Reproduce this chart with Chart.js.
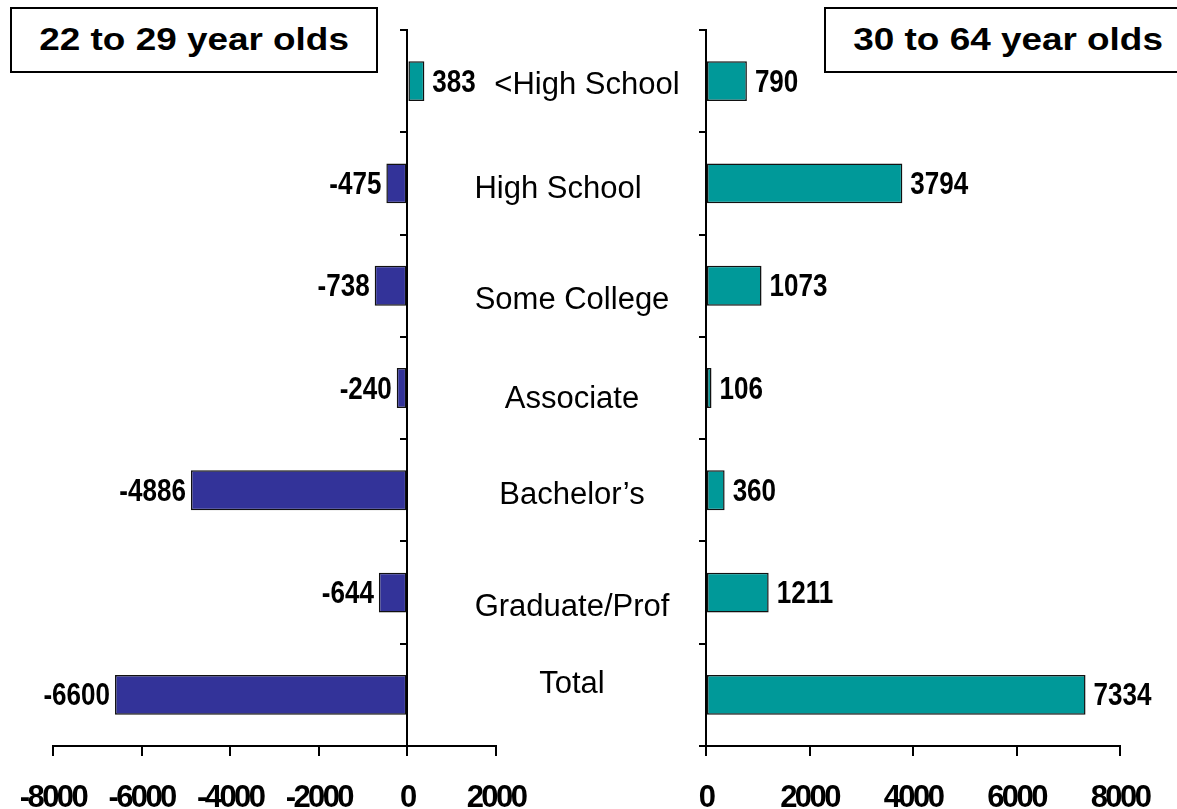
<!DOCTYPE html>
<html>
<head>
<meta charset="utf-8">
<script src="https://cdn.jsdelivr.net/npm/chart.js@4"></script>
<style>
  body { margin: 0; background: #fff; }
  #wrap { position: relative; width: 1177px; height: 809px; overflow: hidden; }
  canvas { position: absolute; left: 0; top: 0; }
  .tbox {
    position: absolute; top: 7px; width: 364px; height: 62px;
    border: 2px solid #000; background: #fff;
    font: bold 31px "Liberation Sans", Arial, sans-serif;
    line-height: 62px; text-align: center; color: #000;
  }
  .tbox span { display: inline-block; transform: scaleX(1.19); }
</style>
</head>
<body>
<div id="wrap">
  <canvas id="leftChart" width="1177" height="809"></canvas>
  <canvas id="rightChart" width="1177" height="809"></canvas>
  <div class="tbox" style="left:10px"><span>22 to 29 year olds</span></div>
  <div class="tbox" style="left:824px"><span>30 to 64 year olds</span></div>
</div>
<script>
// categorias e valores
const categorias = ['<High School', 'High School', 'Some College', 'Associate', "Bachelor\u2019s", 'Graduate/Prof', 'Total'];
const jovens = [383, -475, -738, -240, -4886, -644, -6600];   // 22 a 29 anos
const adultos = [790, 3794, 1073, 106, 360, 1211, 7334];      // 30 a 64 anos
const ticksEsquerda = [-8000, -6000, -4000, -2000, 0, 2000];
const ticksDireita = [0, 2000, 4000, 6000, 8000];

const azul = '#333399';
const verde = '#009999';
const fonteNumeros = 'bold 31px "Liberation Sans", Arial, sans-serif';

// ajuste fino dos rótulos das categorias (x, y)
const ajusteX = [15, -14, 0, 0, 0, 0, 0];
const ajusteY = [4, 6, 15, 11, 5, 15, -10];

// espaçamento apertado nos números dos eixos
const apertaTexto = {
    id: 'apertaTexto',
    beforeDraw(chart) {
        chart.ctx.letterSpacing = '-2.6px';
    }
};

// números ao lado das barras (letra estreita)
const rotulosValores = {
    id: 'rotulosValores',
    afterDatasetsDraw(chart) {
        const ctx = chart.ctx;
        const meta = chart.getDatasetMeta(0);
        const vals = chart.data.datasets[0].data;
        const sx = 0.84;
        ctx.save();
        ctx.letterSpacing = '0px';
        ctx.font = fonteNumeros;
        ctx.fillStyle = '#000';
        ctx.textBaseline = 'middle';
        meta.data.forEach((bar, i) => {
            ctx.save();
            if (vals[i] < 0) {
                ctx.translate(bar.x - 5, bar.y + 2);
                ctx.textAlign = 'right';
            } else {
                ctx.translate(bar.x + 8, bar.y + 2);
                ctx.textAlign = 'left';
            }
            ctx.scale(sx, 1);
            ctx.fillText(String(vals[i]), 0, 0);
            ctx.restore();
        });
        ctx.restore();
    }
};

// nomes das categorias no meio
const rotulosCategorias = {
    id: 'rotulosCategorias',
    afterDraw(chart) {
        const ctx = chart.ctx;
        const y = chart.scales.y;
        ctx.save();
        ctx.letterSpacing = '0px';
        ctx.font = '31px "Liberation Sans", Arial, sans-serif';
        ctx.fillStyle = '#000';
        ctx.textAlign = 'center';
        ctx.textBaseline = 'middle';
        categorias.forEach((c, i) => {
            ctx.fillText(c, 572 + ajusteX[i], y.getPixelForValue(i) + ajusteY[i]);
        });
        ctx.restore();
    }
};

function montaGrafico(id, valores, cores, min, max, tickVals, pad, extras) {
    return new Chart(document.getElementById(id), {
        type: 'bar',
        data: {
            labels: categorias,
            datasets: [{
                data: valores,
                backgroundColor: cores,
                borderColor: '#111',
                borderWidth: 1.5,
                borderSkipped: false,
                categoryPercentage: 1,
                barPercentage: 0.39
            }]
        },
        options: {
            indexAxis: 'y',
            responsive: false,
            animation: false,
            events: [],
            layout: { padding: pad, autoPadding: false },
            plugins: { legend: { display: false }, tooltip: { enabled: false } },
            scales: {
                x: {
                    min: min,
                    max: max,
                    afterBuildTicks: (s) => { s.ticks = tickVals.map(v => ({ value: v })); },
                    afterFit: (s) => {
                        s.height = 63;
                        s.paddingLeft = 0;
                        s.paddingRight = 0;
                    },
                    ticks: {
                        color: '#000',
                        font: { family: '"Liberation Sans", Arial, sans-serif', size: 31, weight: 'bold' },
                        padding: 24,
                        maxRotation: 0,
                        autoSkip: false,
                        callback: (v) => String(v)
                    },
                    grid: { drawOnChartArea: false, tickLength: 10, color: '#000', lineWidth: 2 },
                    border: { color: '#000', width: 2 }
                },
                y: {
                    position: { x: 0 },
                    afterFit: (s) => { s.width = 0; },
                    ticks: { display: false },
                    grid: { drawOnChartArea: false, tickLength: 6, color: '#000', lineWidth: 2, offset: true },
                    border: { color: '#000', width: 2 }
                }
            }
        },
        plugins: [apertaTexto, rotulosValores].concat(extras)
    });
}

montaGrafico('leftChart', jovens, jovens.map(v => v < 0 ? azul : verde), -8000, 2000, ticksEsquerda,
    { left: 53, right: 1177 - 496, top: 30, bottom: 0 }, []);

montaGrafico('rightChart', adultos, adultos.map(v => v < 0 ? azul : verde), 0, 8000, ticksDireita,
    { left: 706, right: 1177 - 1120, top: 30, bottom: 0 }, [rotulosCategorias]);
</script>
</body>
</html>
